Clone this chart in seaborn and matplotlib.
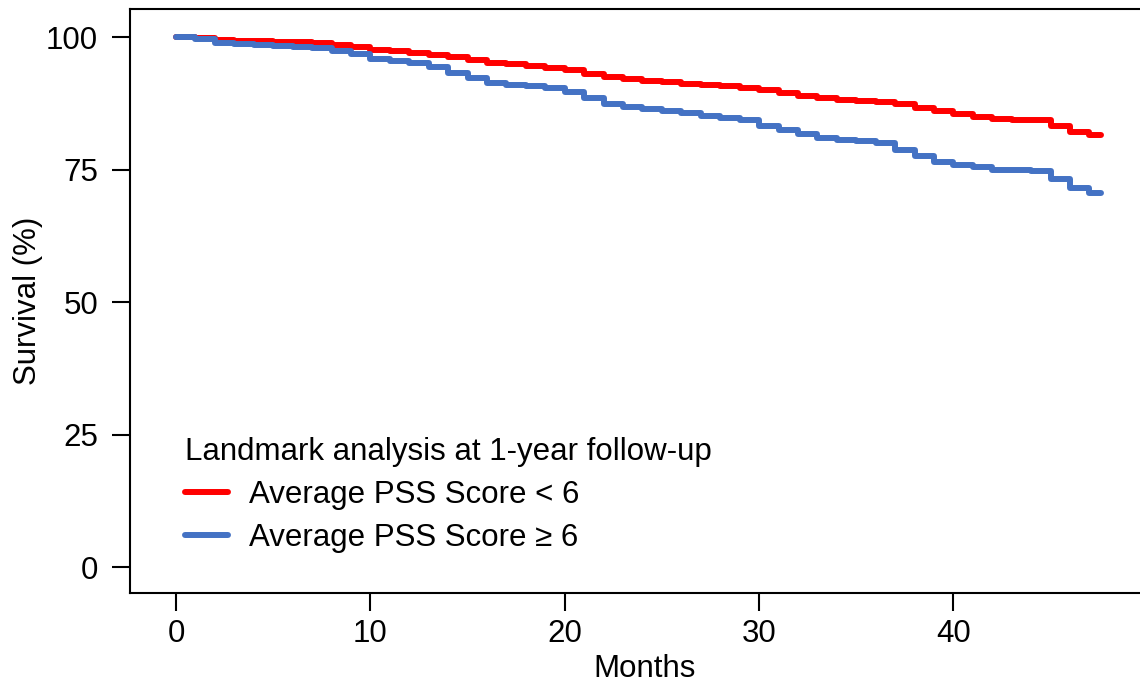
import numpy as np
import pandas as pd
import seaborn as sns
from matplotlib import pyplot as plt

# Kaplan-Meier style step curves
months = [0, 1, 2, 3, 4, 5, 6, 7, 8, 9, 10, 11, 12, 13, 14, 15, 16, 17, 18, 19,
          20, 21, 22, 23, 24, 25, 26, 27, 28, 29, 30, 31, 32, 33, 34, 35, 36, 37,
          38, 39, 40, 41, 42, 43, 44, 45, 46, 47, 47.6]
surv_low = [100, 99.8, 99.5, 99.3, 99.2, 99.1, 99.0, 98.8, 98.6, 98.2, 97.6, 97.3,
            97.0, 96.6, 96.2, 95.7, 95.2, 94.9, 94.6, 94.1, 93.7, 93.0, 92.5, 92.1,
            91.8, 91.5, 91.2, 91.0, 90.7, 90.4, 90.0, 89.4, 88.9, 88.5, 88.2, 88.0,
            87.8, 87.4, 86.7, 86.0, 85.4, 84.9, 84.5, 84.4, 84.3, 83.2, 82.1, 81.5, 81.5]
surv_high = [100, 99.6, 98.8, 98.7, 98.6, 98.4, 98.2, 97.9, 97.3, 96.8, 95.8, 95.5,
             95.1, 94.4, 93.2, 92.2, 91.4, 91.0, 90.7, 90.3, 89.6, 88.6, 87.4, 86.9,
             86.5, 86.1, 85.7, 85.2, 84.7, 84.3, 83.2, 82.4, 81.7, 80.9, 80.6, 80.4,
             80.0, 78.6, 77.6, 76.5, 75.9, 75.4, 74.9, 74.9, 74.8, 73.2, 71.6, 70.6, 70.6]
groups = ['Average PSS Score < 6', 'Average PSS Score \u2265 6']
colors = ['#FF0000', '#4472C4']
y_ticks = [0, 25, 50, 75, 100]
x_ticks = [0, 10, 20, 30, 40]

df = pd.concat([
    pd.DataFrame({'Months': months, 'Survival': surv_low, 'group': groups[0]}),
    pd.DataFrame({'Months': months, 'Survival': surv_high, 'group': groups[1]}),
])

sns.set_style('white')
plt.rcParams['font.family'] = ['Liberation Sans', 'DejaVu Sans']
plt.rcParams['text.color'] = 'black'
plt.rcParams['axes.labelcolor'] = 'black'
fs = 22.5

fig = plt.figure(figsize=(11.4, 6.86), dpi=100)
ax = fig.add_axes([130/1140, 93/686, 1 - 130/1140, (593 - 9)/686])

sns.lineplot(data=df, x='Months', y='Survival', hue='group', palette=colors,
             drawstyle='steps-post', linewidth=4.3, ax=ax)

ax.set_xlim(-2.37, 49.6)
ax.set_ylim(-4.9, 105.3)
ax.set_xticks(x_ticks)
ax.set_yticks(y_ticks)
ax.tick_params(axis='both', direction='out', length=13, width=1.5, labelsize=fs,
               colors='black', left=True, bottom=True)
ax.tick_params(axis='y', pad=10)
ax.tick_params(axis='x', pad=6)
for side in ['left', 'top', 'bottom']:
    ax.spines[side].set_linewidth(1.5)
    ax.spines[side].set_color('black')
ax.spines['right'].set_visible(False)

ax.set_xlabel('Months', fontsize=fs)
ax.set_ylabel('Survival (%)', fontsize=fs)
ax.xaxis.set_label_coords((645 - 130) / 1010, -0.104)
ax.yaxis.set_label_coords(-0.086, 0.5)

handles, labels = ax.get_legend_handles_labels()
leg = ax.legend(handles, labels, title='Landmark analysis at 1-year follow-up',
                loc='upper left', bbox_to_anchor=(169/1140, 1 - 421/686),
                bbox_transform=fig.transFigure, frameon=False, fontsize=fs,
                title_fontsize=fs, handlelength=1.4, handletextpad=0.65,
                labelspacing=0.42, borderpad=0)
leg._legend_box.align = 'left'
for line in leg.get_lines():
    line.set_linewidth(4.3)

fig.savefig('out.png', dpi=100)
